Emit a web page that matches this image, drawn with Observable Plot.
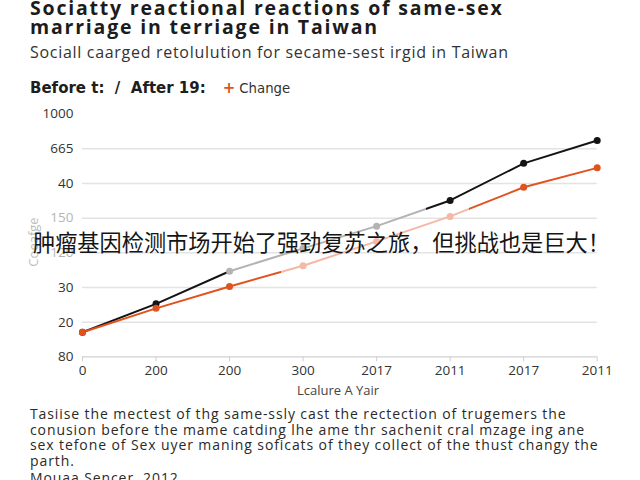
<!DOCTYPE html>
<html>
<head>
<meta charset="utf-8">
<script src="https://cdn.jsdelivr.net/npm/d3@7"></script>
<script src="https://cdn.jsdelivr.net/npm/@observablehq/plot@0.6"></script>
<style>
  html, body { margin: 0; padding: 0; background: #fff; }
  body { width: 640px; height: 480px; overflow: hidden; position: relative; font-family: "Open Sans", "Noto Sans", sans-serif; color: #222; }
  .abs { position: absolute; white-space: nowrap; }
  #title { left: 30px; top: -2px; font-weight: 700; font-size: 19.5px; line-height: 19px; letter-spacing: 1.8px; color: #1c1c1c; }
  #subtitle { left: 30px; top: 41px; font-size: 16px; letter-spacing: 0.7px; color: #333; }
  #legend { left: 30px; top: 78px; font-family: "DejaVu Sans", sans-serif; color: #1e1e1e; }
  #legend b { font-weight: 700; font-size: 15px; }
  #legend .plus { color: #e0521e; font-weight: 700; font-size: 15px; margin-left: 17px; margin-right: 4px; }
  #legend .chg { font-size: 13.3px; color: #333; }
  #chart { left: 0; top: 100px; }
  #ylab { left: 33px; top: 242px; transform: translate(-50%, -50%) rotate(-90deg); transform-origin: center; font-size: 13px; color: #bdbdbd; position: absolute; white-space: nowrap; }
  #xlab { left: 338px; top: 381px; transform: translateX(-50%); font-size: 13px; color: #444; }
  #caption { left: 30px; top: 406px; font-size: 14px; line-height: 15.7px; letter-spacing: 0.9px; color: #2a2a2a; }
  #source { left: 30px; top: 468px; font-size: 14px; letter-spacing: 0.9px; color: #2a2a2a; }
  #overlay { left: 33px; top: 227px; font-family: "Noto Sans CJK SC", sans-serif; font-size: 22.2px; line-height: 28px; color: #151515; }
</style>
</head>
<body>
<div id="title" class="abs">Sociatty reactional reactions of same-sex<br>marriage in terriage in Taiwan</div>
<div id="subtitle" class="abs">Sociall caarged retolulution for secame-sest irgid in Taiwan</div>
<div id="legend" class="abs"><b>Before t:&nbsp; /&nbsp; After 19:</b><span class="plus">+</span><span class="chg">Change</span></div>
<div id="chart" class="abs"></div>
<div id="ylab">Coeafge</div>
<div id="xlab" class="abs">Lcalure A Yair</div>
<div id="caption" class="abs">Tasiise the mectest of thg same-ssly cast the rectection of trugemers the<br>conusion before the mame catding lhe ame thr sachenit cral mzage ing ane<br>sex tefone of Sex uyer maning soficats of they collect of the thust changy the<br>parth.</div>
<div id="source" class="abs">Mouaa Sencer, 2012</div>
<div id="overlay" class="abs">肿瘤基因检测市场开始了强劲复苏之旅，但挑战也是巨大！</div>
<script>
// Category tick labels (as printed on the reference)
const xLabels = ["0", "200", "200", "300", "2017", "2011", "2017", "2011"];
const yLabels = ["80", "20", "30", "120", "150", "40", "665", "1000"];
// Series values, in units of the y axis' evenly spaced ticks
const beforeAfter = [0.71, 1.53, 2.47, 3.13, 3.77, 4.51, 5.58, 6.24];
const change = [0.71, 1.40, 2.03, 2.63, 3.33, 4.05, 4.89, 5.45];

const black = "#141414", gray = "#b3b3b3", red = "#e0521e", pale = "#f5b8a6";

const rowsA = beforeAfter.map((v, i) => ({i, v}));
const rowsB = change.map((v, i) => ({i, v}));
const idx = d3.range(xLabels.length);

const plot = Plot.plot({
  width: 640,
  height: 300,
  marginLeft: 82,
  marginRight: 43.3,
  marginTop: 13.6,
  marginBottom: 43.6,
  style: {fontFamily: "'Open Sans', sans-serif", fontSize: "13px", color: "#333", background: "transparent"},
  x: {domain: [0, 7]},
  y: {domain: [0, 7]},
  marks: [
    Plot.ruleY(d3.range(1, 7), {stroke: "#e3e3e3", strokeWidth: 1.5}),
    Plot.ruleY([0], {stroke: "#d0d0d0", strokeWidth: 1.2}),
    Plot.axisX({ticks: idx, tickFormat: i => xLabels[i], tickSize: 5, tickPadding: 4, stroke: "#cfcfcf", label: null, fontSize: 13.5}),
    Plot.axisY({ticks: idx, tickFormat: i => yLabels[i], tickSize: 0, tickPadding: 9, label: null, fontSize: 13.5,
      fill: d => (d === 3 || d === 4) ? "#b5b5b5" : "#333"}),
    Plot.line(rowsA, {x: "i", y: "v", stroke: "url(#gradA)", strokeWidth: 2}),
    Plot.line(rowsB, {x: "i", y: "v", stroke: "url(#gradB)", strokeWidth: 2}),
    Plot.dot(rowsA, {x: "i", y: "v", r: 3.5, fill: d => (d.i >= 2 && d.i <= 4) ? gray : black}),
    Plot.dot(rowsB, {x: "i", y: "v", r: 3.5, fill: d => (d.i >= 3 && d.i <= 5) ? pale : red})
  ]
});

// Hard-stop gradients reproducing the faded middle stretch of each line
const defs = d3.select(plot).insert("defs", ":first-child");
function grad(id, c1, c2, a, b) {
  const g = defs.append("linearGradient").attr("id", id).attr("x1", 0).attr("x2", 1).attr("y1", 0).attr("y2", 0);
  [[0, c1], [a, c1], [a, c2], [b, c2], [b, c1], [1, c1]].forEach(([o, c]) =>
    g.append("stop").attr("offset", o).attr("stop-color", c));
}
grad("gradA", black, gray, 0.2866, 0.6666);
grad("gradB", red, pale, 0.385, 0.75);

document.getElementById("chart").appendChild(plot);
</script>
</body>
</html>
